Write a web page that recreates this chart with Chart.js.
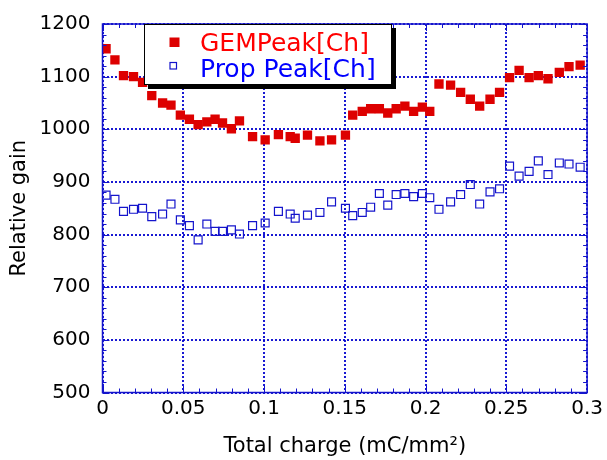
<!DOCTYPE html>
<html>
<head>
<meta charset="utf-8">
<script src="https://cdn.jsdelivr.net/npm/chart.js@4.4.1/dist/chart.umd.min.js"></script>
<style>
  html, body { margin: 0; padding: 0; background: #fff; }
  #wrap { width: 607px; height: 460px; }
</style>
</head>
<body>
<div id="wrap"><canvas id="gainChart" width="607" height="460"></canvas></div>
<script>
// total charge (mC/mm2), shared by both series
const charge = [
  0.0022, 0.0077, 0.0130, 0.0192, 0.0248, 0.0305, 0.0372, 0.0424, 0.0482, 0.0538,
  0.0592, 0.0646, 0.0697, 0.0743, 0.0798, 0.0848, 0.0929, 0.1007, 0.1089, 0.1162,
  0.1193, 0.1269, 0.1346, 0.1418, 0.1504, 0.1549, 0.1608, 0.1660, 0.1714, 0.1766,
  0.1818, 0.1872, 0.1926, 0.1980, 0.2026, 0.2083, 0.2155, 0.2217, 0.2277, 0.2335,
  0.2399, 0.2458, 0.2520, 0.2579, 0.2641, 0.2698, 0.2758, 0.2828, 0.2888, 0.2957
];
const gemPeak = [
  1153, 1132, 1102, 1100, 1089, 1064, 1050, 1046, 1027, 1019,
  1009, 1014, 1019, 1012, 1001, 1016, 986, 980, 990, 986,
  983, 989, 978, 980, 989, 1027, 1034, 1039, 1039, 1031,
  1039, 1044, 1034, 1042, 1034, 1086, 1084, 1070, 1057, 1044,
  1057, 1070, 1098, 1112, 1098, 1102, 1096, 1108, 1119, 1122
];
const propPeak = [
  875, 867, 844, 848, 850, 834, 839, 858, 828, 817,
  790, 820, 806, 806, 809, 801, 817, 822, 844, 839,
  831, 837, 842, 862, 850, 836, 842, 852, 878, 856,
  876, 878, 872, 878, 870, 848, 862, 876, 895, 858,
  881, 887, 930, 911, 920, 940, 914, 936, 934, 928
];
const seriesLabels = ['GEMPeak[Ch]', 'Prop Peak[Ch]'];
const xTickLabels = ['0', '0.05', '0.1', '0.15', '0.2', '0.25', '0.3'];
const yTickLabels = ['500', '600', '700', '800', '900', '1000', '1100', '1200'];

const RED = '#dd0000';
const BLUE = '#1414cc';
const GRID = 'rgba(0, 0, 205, 0.9)';

Chart.defaults.font.family = "'DejaVu Sans', sans-serif";
Chart.defaults.color = '#000';

// frame, inward minor ticks and the boxed legend with shadow
const frameAndLegend = {
  id: 'frameAndLegend',
  afterDraw(chart) {
    const { ctx, chartArea: a, scales: { x, y } } = chart;
    ctx.save();
    ctx.strokeStyle = BLUE;
    ctx.lineWidth = 1.5;
    ctx.strokeRect(a.left, a.top, a.right - a.left, a.bottom - a.top);

    ctx.lineWidth = 1;
    ctx.beginPath();
    for (let v = 500; v <= 1200; v += 20) {
      const py = Math.round(y.getPixelForValue(v)) + 0.5;
      const len = v % 100 === 0 ? 7 : 4;
      ctx.moveTo(a.left, py); ctx.lineTo(a.left + len, py);
      ctx.moveTo(a.right, py); ctx.lineTo(a.right - len, py);
    }
    for (let i = 0; i <= 30; i++) {
      const px = Math.round(x.getPixelForValue(i / 100)) + 0.5;
      const len = i % 5 === 0 ? 7 : 4;
      ctx.moveTo(px, a.bottom); ctx.lineTo(px, a.bottom - len);
      ctx.moveTo(px, a.top); ctx.lineTo(px, a.top + len);
    }
    ctx.stroke();

    // legend box
    const bx = a.left + 41.5, by = a.top, bw = 248, bh = 61;
    ctx.fillStyle = '#000';
    ctx.fillRect(bx + 4, by + 4, bw, bh);
    ctx.fillStyle = '#fff';
    ctx.fillRect(bx, by, bw, bh);
    ctx.strokeStyle = '#000';
    ctx.lineWidth = 1;
    ctx.strokeRect(bx + 0.5, by + 0.5, bw - 1, bh - 1);

    ctx.font = "25px 'DejaVu Sans'";
    ctx.textBaseline = 'alphabetic';
    ctx.textAlign = 'left';
    // GEM
    ctx.fillStyle = RED;
    ctx.fillRect(bx + 25.5, by + 13.5, 10, 9.5);
    ctx.fillStyle = '#ff0000';
    ctx.fillText(seriesLabels[0], bx + 56, by + 26.5);
    // Prop
    ctx.strokeStyle = BLUE;
    ctx.lineWidth = 1.2;
    ctx.strokeRect(bx + 26, by + 38.5, 6.5, 6.5);
    ctx.fillStyle = '#0000ff';
    ctx.fillText(seriesLabels[1], bx + 56, by + 52.5);
    ctx.restore();
  }
};

const ctx = document.getElementById('gainChart').getContext('2d');

new Chart(ctx, {
  type: 'scatter',
  data: {
    datasets: [{
      label: seriesLabels[0],
      data: charge.map((c, i) => ({ x: c, y: gemPeak[i] })),
      pointStyle: 'rect',
      pointRadius: 6.6,
      backgroundColor: RED,
      borderColor: RED,
      borderWidth: 0
    }, {
      label: seriesLabels[1],
      data: charge.map((c, i) => ({ x: c, y: propPeak[i] })),
      pointStyle: 'rect',
      pointRadius: 5.6,
      backgroundColor: 'rgba(0,0,0,0)',
      borderColor: BLUE,
      borderWidth: 1.2
    }]
  },
  options: {
    responsive: false,
    animation: false,
    layout: { padding: { left: 0, top: 20.5, right: 19.5, bottom: 0 } },
    plugins: { legend: { display: false }, tooltip: { enabled: false } },
    scales: {
      x: {
        type: 'linear',
        min: 0,
        max: 0.3,
        afterFit: s => { s.height = 67.5; },
        ticks: {
          stepSize: 0.05,
          padding: 4,
          font: { size: 20 },
          maxRotation: 0,
          callback: (v, i) => xTickLabels[i]
        },
        grid: { color: GRID, lineWidth: 2, drawTicks: false },
        border: { display: false, dash: [2, 2] },
        title: {
          display: true,
          text: 'Total charge (mC/mm²)',
          font: { size: 21 },
          padding: { top: 0, bottom: 1 }
        }
      },
      y: {
        min: 500,
        max: 1200,
        afterFit: s => { s.width = 102.5; },
        ticks: {
          stepSize: 100,
          padding: 12,
          font: { size: 20 },
          callback: (v, i) => yTickLabels[i]
        },
        grid: { color: GRID, lineWidth: 2, drawTicks: false },
        border: { display: false, dash: [2, 2] },
        title: {
          display: true,
          text: 'Relative gain',
          font: { size: 21 },
          padding: { top: 7, bottom: 0 }
        }
      }
    }
  },
  plugins: [frameAndLegend]
});
</script>
</body>
</html>
